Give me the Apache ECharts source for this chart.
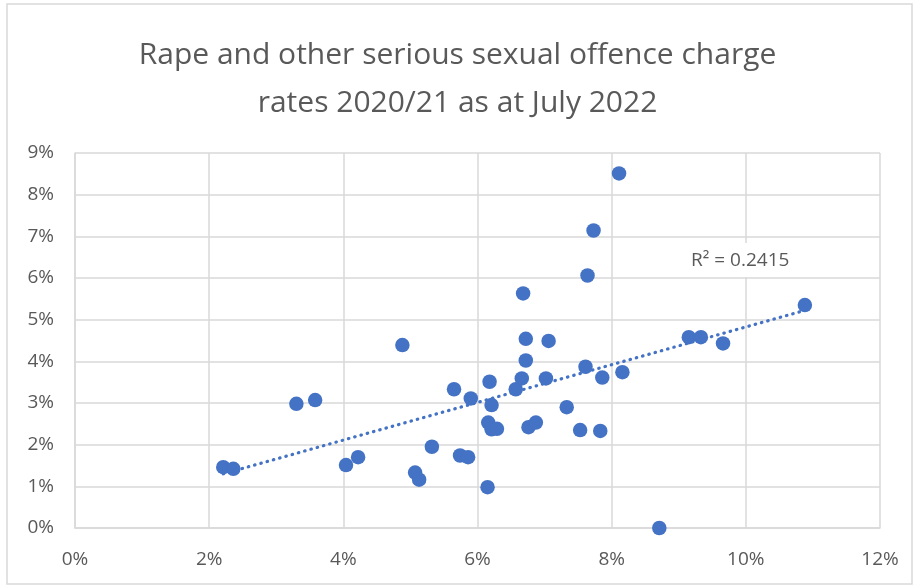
<!DOCTYPE html>
<html>
<head>
<meta charset="utf-8">
<script src="https://cdn.jsdelivr.net/npm/echarts@6/dist/echarts.min.js"></script>
<style>
  html, body { margin: 0; padding: 0; background: #fff; }
  #chart { width: 915px; height: 587px; }
</style>
</head>
<body>
<div id="chart"></div>
<script>
// Data (percent values)
const titleLines = ["Rape and other serious sexual offence charge", "rates 2020/21 as at July 2022"];
const xValues = [2.21, 2.36, 3.30, 3.58, 4.04, 4.22, 4.88, 5.07, 5.13, 5.32, 5.65, 5.74, 5.86, 5.90, 6.15,
  6.16, 6.21, 6.29, 6.18, 6.21, 6.57, 6.66, 6.68, 6.72, 6.72, 6.76, 6.87, 7.02, 7.06, 7.33,
  7.53, 7.61, 7.64, 7.73, 7.83, 7.86, 8.11, 8.16, 8.71, 9.15, 9.33, 9.66, 10.88];
const yValues = [1.46, 1.42, 2.98, 3.07, 1.51, 1.70, 4.39, 1.33, 1.16, 1.95, 3.33, 1.74, 1.70, 3.11, 0.98,
  2.53, 2.37, 2.38, 3.51, 2.95, 3.33, 3.59, 5.63, 4.54, 4.02, 2.42, 2.53, 3.59, 4.49, 2.90,
  2.35, 3.87, 6.06, 7.14, 2.33, 3.61, 8.51, 3.74, 0.00, 4.58, 4.58, 4.43, 5.35];
const xTicks = [0, 2, 4, 6, 8, 10, 12];
const yTicks = [0, 1, 2, 3, 4, 5, 6, 7, 8, 9];
const r2Label = "R² = 0.2415";

const points = xValues.map((x, i) => [x, yValues[i]]);

// Linear trendline (least squares) from the data
const n = xValues.length;
const mx = xValues.reduce((a, b) => a + b, 0) / n;
const my = yValues.reduce((a, b) => a + b, 0) / n;
let sxy = 0, sxx = 0;
for (let i = 0; i < n; i++) { sxy += (xValues[i] - mx) * (yValues[i] - my); sxx += (xValues[i] - mx) ** 2; }
const slope = sxy / sxx, intercept = my - slope * mx;
const xMin = Math.min(...xValues), xMax = Math.max(...xValues);
const trend = [[xMin, intercept + slope * xMin], [xMax, intercept + slope * xMax]];

const FONT = "Open Sans";
const GREY = "#595959";
const chart = echarts.init(document.getElementById('chart'), null, { renderer: 'canvas' });
chart.setOption({
  animation: false,
  backgroundColor: '#fff',
  title: {
    text: titleLines.join('\n'),
    left: 'center', top: 26,
    textStyle: { fontFamily: FONT, fontSize: 30, fontWeight: 'normal', color: GREY, lineHeight: 48 }
  },
  grid: { left: 75, right: 35, top: 153, bottom: 59 },
  xAxis: {
    type: 'value', min: 0, max: 12, interval: 2,
    axisLine: { show: true, lineStyle: { color: '#d9d9d9', width: 1.5 } },
    axisTick: { show: false },
    splitLine: { show: true, lineStyle: { color: '#d9d9d9', width: 1.5 } },
    axisLabel: { margin: 22, fontFamily: FONT, fontSize: 19, color: GREY,
      formatter: v => xTicks.includes(v) ? v + '%' : '' }
  },
  yAxis: {
    type: 'value', min: 0, max: 9, interval: 1,
    axisLine: { show: true, lineStyle: { color: '#d9d9d9', width: 1.5 } },
    axisTick: { show: false },
    splitLine: { show: true, lineStyle: { color: '#d9d9d9', width: 1.5 } },
    axisLabel: { margin: 21, fontFamily: FONT, fontSize: 19, color: GREY,
      formatter: v => yTicks.includes(v) ? v + '%' : '' }
  },
  series: [
    {
      type: 'line', data: trend, symbol: 'none', z: 1,
      lineStyle: { color: '#4472C4', width: 3.2, type: [0.5, 6], cap: 'round' }
    },
    {
      type: 'scatter', data: points, symbol: 'circle', symbolSize: 14.5, z: 2,
      itemStyle: { color: '#4472C4', opacity: 1 }
    }
  ],
  graphic: [
    { type: 'rect', shape: { x: 7, y: 4, width: 905, height: 580 }, style: { fill: 'none', stroke: '#d9d9d9', lineWidth: 1.5 }, silent: true },
    { type: 'rect', shape: { x: 683, y: 243, width: 122, height: 34 }, style: { fill: '#fff' }, z: 10 },
    { type: 'text', x: 691, y: 261, z: 11,
      style: { text: r2Label, fontFamily: FONT, fontSize: 19, fill: GREY, verticalAlign: 'middle' } }
  ]
});
</script>
</body>
</html>
